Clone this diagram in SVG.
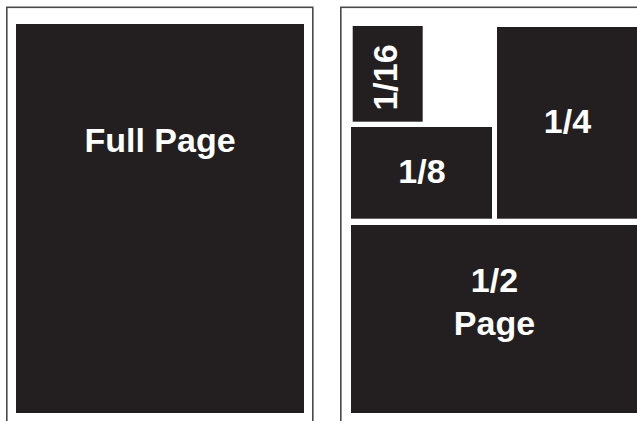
<svg xmlns="http://www.w3.org/2000/svg" width="637" height="421" viewBox="0 0 637 421">
<style>
.page{fill:#fff;stroke:#4a4a4a;stroke-width:1.6}
.blk{fill:#231f20}
.lbl{fill:#fff;font-family:"Liberation Sans",Arial,sans-serif;font-weight:bold;font-size:34px;text-anchor:middle}
</style>
<rect width="637" height="421" fill="#fff"/>
<g id="left-page">
<rect class="page" x="6.8" y="7.3" width="306" height="430"/>
</g>
<g id="right-page">
<rect class="page" x="340.8" y="7.3" width="320" height="430"/>
</g>
<g id="full-page">
<rect class="blk" x="16" y="24" width="288" height="389"/>
<text class="lbl" x="160" y="152">Full Page</text>
</g>
<g id="sixteenth">
<rect class="blk" x="352.7" y="26" width="70" height="95.7"/>
<text class="lbl" transform="translate(397,77.5) rotate(-90)" x="0" y="0">1/16</text>
</g>
<g id="eighth">
<rect class="blk" x="351" y="127" width="141" height="91.7"/>
<text class="lbl" x="422" y="183">1/8</text>
</g>
<g id="quarter">
<rect class="blk" x="497" y="27" width="140" height="191.7"/>
<text class="lbl" x="567.5" y="133">1/4</text>
</g>
<g id="half">
<rect class="blk" x="351" y="225" width="286" height="188"/>
<text class="lbl" x="494.5" y="292">1/2</text>
<text class="lbl" x="494.5" y="335">Page</text>
</g>
<g id="connectors"/>
</svg>
